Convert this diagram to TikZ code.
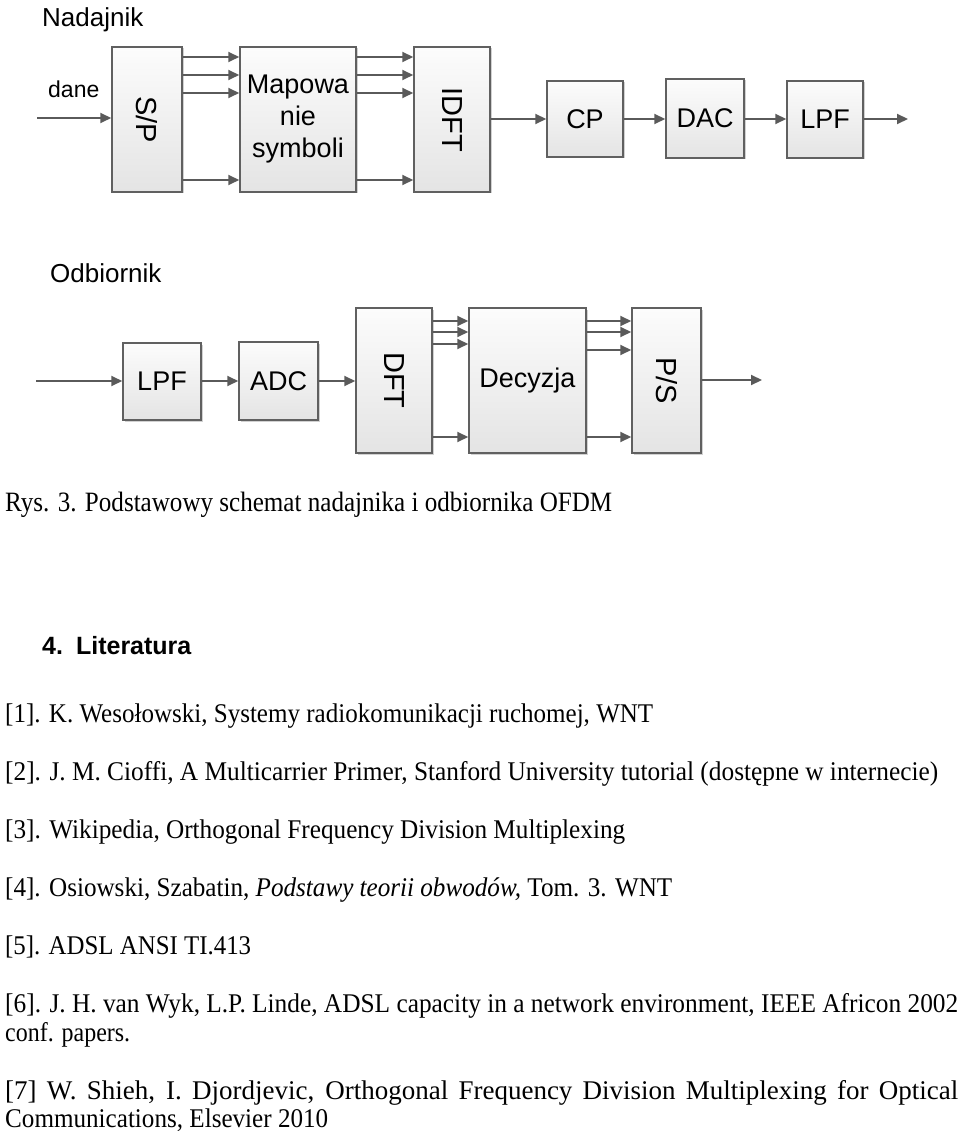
\documentclass[tikz,border=0pt]{standalone}
\usepackage{fontspec}
\usepackage{graphicx}
\setmainfont{Liberation Serif}
\newfontfamily\arialfont{Liberation Sans}
\usetikzlibrary{arrows.meta,shadows,shadings}
\definecolor{boxline}{HTML}{606060}
\definecolor{boxtop}{HTML}{FCFCFC}
\definecolor{boxbot}{HTML}{E4E4E4}
\definecolor{arrgray}{HTML}{5A5A5A}
\tikzset{
  blk/.style={draw=boxline, line width=1.5pt, top color=boxtop, bottom color=boxbot,
    inner sep=0pt, font=\arialfont\fontsize{27}{32}\selectfont,
    drop shadow={shadow xshift=1.5pt, shadow yshift=-1.5pt, opacity=0.18, fill=black}},
  arr/.style={draw=arrgray, line width=2pt, -{Triangle[length=11pt,width=10pt]}},
  ttl/.style={anchor=base west, inner sep=0pt, font=\arialfont\fontsize{26}{30}\selectfont},
  ref/.style={anchor=base west, inner sep=0pt, font=\fontsize{27}{30}\selectfont},
}
\newcommand{\rot}[1]{\rotatebox{-90}{\fontsize{29}{32}\selectfont #1}}
\begin{document}
\begin{tikzpicture}[x=1pt,y=-1pt]
\useasboundingbox (0,0) rectangle (960,1131);
% ---------- Nadajnik ----------
\node[ttl] (tnad) at (42,27) {Nadajnik};
\node[ttl, font=\arialfont\fontsize{23}{28}\selectfont] (tdane) at (48,98) {dane};
\node[blk, minimum width=70pt, minimum height=145pt] (sp) at (147,119.5) {\rot{S/P}};
\node[blk, minimum width=116pt, minimum height=145pt, align=center] (map) at (298,119.5) {Mapowa\\nie\\symboli};
\node[blk, minimum width=76pt, minimum height=145pt] (idft) at (452,119.5) {\rot{IDFT}};
\node[blk, minimum width=76pt, minimum height=76pt] (cp) at (585,119) {CP};
\node[blk, minimum width=78pt, minimum height=79pt] (dac) at (705,118.5) {DAC};
\node[blk, minimum width=76pt, minimum height=77pt] (lpfa) at (825,119.5) {LPF};
\coordinate (tin) at (37,118);
\coordinate (tout) at (908,119);
\draw[arr] (tin) -- (sp.west |- tin);
\foreach \yy in {57,75,93,180}{
  \draw[arr] (sp.east |- 0,\yy) -- (map.west |- 0,\yy);
  \draw[arr] (map.east |- 0,\yy) -- (idft.west |- 0,\yy);
}
\draw[arr] (idft.east |- cp) -- (cp.west);
\draw[arr] (cp.east) -- (dac.west |- cp);
\draw[arr] (dac.east |- cp) -- (lpfa.west |- cp);
\draw[arr] (lpfa.east |- tout) -- (tout);
% ---------- Odbiornik ----------
\node[ttl] (todb) at (50,283) {Odbiornik};
\node[blk, minimum width=78pt, minimum height=77pt] (lpfb) at (162,381.5) {LPF};
\node[blk, minimum width=79pt, minimum height=78pt] (adc) at (278.5,381) {ADC};
\node[blk, minimum width=76pt, minimum height=145pt] (dft) at (394,380.5) {\rot{DFT}};
\node[blk, minimum width=117pt, minimum height=145pt] (dec) at (527.5,380.5) {Decyzja};
\node[blk, minimum width=69pt, minimum height=145pt] (ps) at (666.5,380.5) {\rot{P/S}};
\coordinate (rin) at (36,381);
\coordinate (rout) at (762,380);
\draw[arr] (rin) -- (lpfb.west |- rin);
\draw[arr] (lpfb.east |- rin) -- (adc.west |- rin);
\draw[arr] (adc.east |- rin) -- (dft.west |- rin);
\foreach \yy in {321,332,344,437}{
  \draw[arr] (dft.east |- 0,\yy) -- (dec.west |- 0,\yy);
}
\foreach \yy in {321,332,350,437}{
  \draw[arr] (dec.east |- 0,\yy) -- (ps.west |- 0,\yy);
}
\draw[arr] (ps.east |- rout) -- (rout);
% ---------- Text ----------
\node[ref, font=\fontsize{28}{30}\selectfont] (rys) at (5,511) {\resizebox{607pt}{\height}{Rys. 3. Podstawowy schemat nadajnika i odbiornika OFDM}};
\node[ref, font=\arialfont\bfseries\fontsize{25}{30}\selectfont] (lit) at (42,654) {4.\hspace{13pt}Literatura};
\node[ref] (r1) at (5,722) {\resizebox{648pt}{\height}{[1]. K. Wesołowski, Systemy radiokomunikacji ruchomej, WNT}};
\node[ref] (r2) at (5,780) {\resizebox{933pt}{\height}{[2]. J. M. Cioffi, A Multicarrier Primer, Stanford University tutorial (dostępne w internecie)}};
\node[ref] (r3) at (5,838) {\resizebox{620pt}{\height}{[3]. Wikipedia, Orthogonal Frequency Division Multiplexing}};
\node[ref] (r4) at (5,896) {\resizebox{667pt}{\height}{[4]. Osiowski, Szabatin, \textit{Podstawy teorii obwodów,} Tom. 3. WNT}};
\node[ref] (r5) at (5,954) {\resizebox{246pt}{\height}{[5]. ADSL ANSI TI.413}};
\node[ref] (r6) at (5,1012) {\resizebox{953pt}{\height}{[6]. J. H. van Wyk, L.P. Linde, ADSL capacity in a network environment, IEEE Africon 2002}};
\node[ref] (r6b) at (5,1041) {\resizebox{125pt}{\height}{conf. papers.}};
\node[ref] (r7) at (5,1099) {\makebox[953pt][s]{[7] W. Shieh, I. Djordjevic, Orthogonal Frequency Division Multiplexing for Optical}};
\node[ref] (r7b) at (5,1127) {\resizebox{323pt}{\height}{Communications, Elsevier 2010}};
\end{tikzpicture}
\end{document}
